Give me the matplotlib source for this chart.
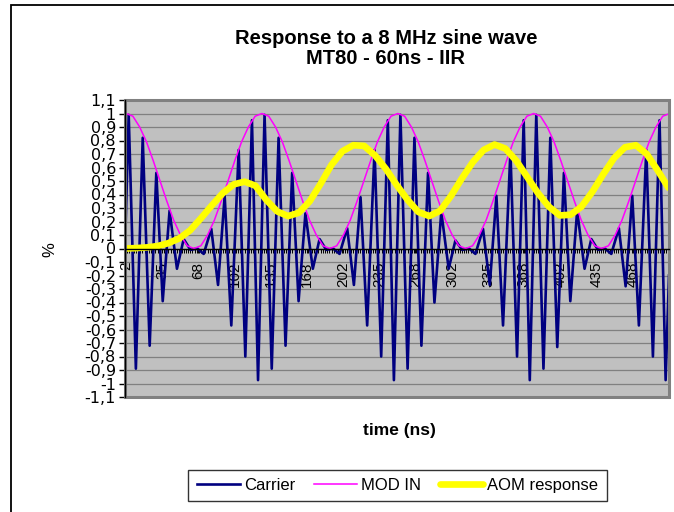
import numpy as np
import matplotlib
matplotlib.use("Agg")
import matplotlib.pyplot as plt
from matplotlib.patches import Rectangle
from matplotlib.lines import Line2D

plt.rcParams['font.family'] = ['Liberation Sans', 'DejaVu Sans']

# carrier: local extremes (time in ns, value)
carrier_t = [1.0, 4.4, 11.0, 17.3, 23.7, 29.8, 35.7, 42.0, 48.8, 55.0, 61.2,
             67.5, 73.4, 80.4, 86.6, 92.7, 98.8, 105.6, 111.7, 117.8, 123.4,
             129.4, 136.0, 142.3, 148.7, 154.8, 160.7, 167.0, 173.8, 180.0, 186.2,
             192.5, 198.4, 205.4, 211.6, 217.7, 223.8, 230.6, 236.7, 242.8, 248.4,
             254.4, 261.0, 267.3, 273.7, 279.8, 285.7, 292.0, 298.8, 305.0, 311.2,
             317.5, 323.4, 330.4, 336.6, 342.7, 348.8, 355.6, 361.7, 367.8, 373.4,
             379.4, 386.0, 392.3, 398.7, 404.8, 410.7, 417.0, 423.8, 430.0, 436.2,
             442.5, 448.4, 455.4, 461.6, 467.7, 473.8, 480.6, 486.7, 492.8, 498.4,
             501.5]
carrier_v = [0.0, 0.99, -0.89, 0.82, -0.72, 0.56, -0.39, 0.28, -0.15, 0.07, -0.01,
             0.0, -0.04, 0.145, -0.27, 0.39, -0.57, 0.73, -0.80, 0.95, -0.975,
             0.99, -0.89, 0.82, -0.72, 0.56, -0.39, 0.26, -0.15, 0.07, -0.01,
             0.0, -0.04, 0.15, -0.27, 0.38, -0.57, 0.73, -0.80, 0.95, -0.975,
             0.99, -0.89, 0.82, -0.72, 0.56, -0.40, 0.27, -0.15, 0.06, -0.01,
             0.0, -0.04, 0.145, -0.27, 0.39, -0.57, 0.72, -0.80, 0.95, -0.975,
             0.99, -0.89, 0.82, -0.73, 0.56, -0.39, 0.28, -0.15, 0.07, -0.01,
             0.0, -0.04, 0.15, -0.28, 0.39, -0.57, 0.73, -0.80, 0.95, -0.975,
             -0.2]

# MOD IN, sampled every 6.25 ns from t = 2
mod_t = np.arange(2, 503, 6.25)
mod_v = [1.00, 0.98, 0.90, 0.79, 0.65, 0.50, 0.35, 0.21, 0.10, 0.02,
         0.00, 0.02, 0.10, 0.21, 0.35, 0.50, 0.65, 0.79, 0.90, 0.98,
         1.00, 0.98, 0.90, 0.79, 0.65, 0.50, 0.35, 0.21, 0.10, 0.02,
         0.00, 0.02, 0.10, 0.21, 0.35, 0.50, 0.65, 0.79, 0.90, 0.98,
         1.00, 0.98, 0.90, 0.79, 0.65, 0.50, 0.35, 0.21, 0.10, 0.02,
         0.00, 0.02, 0.10, 0.21, 0.35, 0.50, 0.65, 0.79, 0.90, 0.98,
         1.00, 0.98, 0.90, 0.79, 0.65, 0.50, 0.35, 0.21, 0.10, 0.02,
         0.00, 0.02, 0.10, 0.21, 0.35, 0.50, 0.65, 0.79, 0.90, 0.98,
         1.00]

# AOM response, every 10 ns from t = 1
aom_t = np.arange(1, 502, 10)
aom_v = [0.0, 0.003, 0.008, 0.018, 0.04, 0.075, 0.135, 0.225, 0.32, 0.41,
         0.475, 0.495, 0.465, 0.36, 0.275, 0.24, 0.265, 0.35, 0.48, 0.62,
         0.72, 0.765, 0.76, 0.69, 0.59, 0.47, 0.36, 0.27, 0.24, 0.28,
         0.39, 0.52, 0.64, 0.73, 0.77, 0.74, 0.65, 0.53, 0.41, 0.31,
         0.245, 0.25, 0.31, 0.42, 0.55, 0.67, 0.75, 0.765, 0.70, 0.58,
         0.45]

x_ticks = [2, 35, 68, 102, 135, 168, 202, 235, 268, 302, 335, 368, 402, 435, 468]
x_labels = [str(v) for v in x_ticks]
y_ticks = np.round(np.arange(-11, 12) / 10, 1)
y_labels = ['-1,1', '-1', '-0,9', '-0,8', '-0,7', '-0,6', '-0,5', '-0,4', '-0,3',
            '-0,2', '-0,1', '0', '0,1', '0,2', '0,3', '0,4', '0,5', '0,6', '0,7',
            '0,8', '0,9', '1', '1,1']

W, H = 674, 512
fig = plt.figure(figsize=(W / 100, H / 100), dpi=100)
fig.patch.set_facecolor('white')

# outer chart frame
fig.add_artist(Rectangle((11 / W, -0.5), 2, 0.5 + (H - 5) / H, transform=fig.transFigure,
                         fill=False, edgecolor='black', lw=1.3))

ax = fig.add_axes([125 / W, 1 - 397 / H, (669 - 125) / W, (397 - 100) / H])
ax.set_facecolor('#C0C0C0')
ax.set_xlim(1, 501.5)
ax.set_ylim(-1.1, 1.1)

for y in y_ticks:
    ax.axhline(y, color='#808080', lw=0.9, zorder=1)

ax.plot(carrier_t, carrier_v, color='#000080', lw=1.9, zorder=3, label='Carrier')
ax.plot(mod_t, mod_v, color='#FF00FF', lw=1.1, zorder=4, label='MOD IN')
ax.plot(aom_t, aom_v, color='#FFFF00', lw=4.8, zorder=5, label='AOM response',
        solid_capstyle='round')

# plot area border
ax.add_patch(Rectangle((0, 0), 1, 1, transform=ax.transAxes, fill=False,
                       edgecolor='#808080', lw=2.2, zorder=6, clip_on=False))

for s in ['top', 'right']:
    ax.spines[s].set_visible(False)
ax.spines['left'].set_color('black')
ax.spines['left'].set_linewidth(1.0)
ax.spines['left'].set_zorder(7)
ax.spines['bottom'].set_position(('data', 0))
ax.spines['bottom'].set_color('black')
ax.spines['bottom'].set_linewidth(1.0)
ax.spines['bottom'].set_zorder(7)

ax.set_yticks(y_ticks, labels=y_labels)
ax.tick_params(axis='y', direction='out', length=4, width=1, pad=2.5)
for lab in ax.get_yticklabels():
    lab.set_family('DejaVu Sans')
    lab.set_fontsize(11.5)

ax.set_xticks(x_ticks, labels=x_labels, rotation=90)
ax.set_xticks(np.arange(1, 502, 2), minor=True)
ax.tick_params(axis='x', which='both', direction='out', length=3, width=0.7,
               pad=6.5, labelsize=11)

fig.text(386 / W, 1 - 38 / H, 'Response to a 8 MHz sine wave',
         ha='center', va='center', fontsize=14.5, fontweight='bold')
fig.text(386 / W, 1 - 58 / H, 'MT80 - 60ns - IIR',
         ha='center', va='center', fontsize=14.5, fontweight='bold')
fig.text(50 / W, 1 - 250 / H, '%', rotation=90, ha='center', va='center', fontsize=12)
fig.text(399 / W, 1 - 430 / H, 'time (ns)', ha='center', va='center', fontsize=12.5,
         fontweight='bold')

handles = [Line2D([], [], color='#000080', lw=1.9),
           Line2D([], [], color='#FF00FF', lw=1.1),
           Line2D([], [], color='#FFFF00', lw=4.8, solid_capstyle='round')]
leg = fig.legend(handles, ['Carrier', 'MOD IN', 'AOM response'], ncol=3,
                 loc='center', bbox_to_anchor=(397.5 / W, 1 - 485.5 / H),
                 frameon=True, fancybox=False, fontsize=12, handlelength=2.6,
                 handletextpad=0.25, columnspacing=1.1, borderpad=0.5,
                 borderaxespad=0)
leg.get_frame().set_edgecolor('black')
leg.get_frame().set_linewidth(1.0)

fig.savefig('out.png', dpi=100)
